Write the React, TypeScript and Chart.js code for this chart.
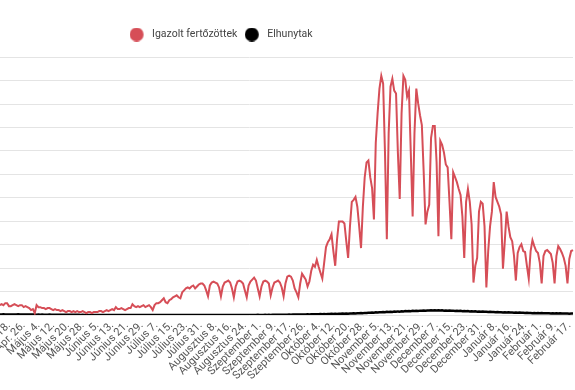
import React, { useEffect, useRef } from 'react';
import { Chart, registerables } from 'chart.js';

Chart.register(...registerables);

// Category (date) definition
const monthNames = ['Március', 'Ápr.', 'Május', 'Június', 'Július', 'Augusztus', 'Szeptember', 'Október', 'November', 'December', 'Január', 'Február'];
const monthFirstDay = [4, 1, 1, 1, 1, 1, 1, 1, 1, 1, 1, 1];
const monthLastDay = [31, 30, 31, 30, 31, 31, 30, 31, 30, 31, 31, 19];
const missingDates = ['Szeptember 20.'];
const firstTickLabel = 'Ápr. 18.';
const tickEvery = 8;

const labels: string[] = [];
monthNames.forEach((m, k) => {
  for (let d = monthFirstDay[k]; d <= monthLastDay[k]; d++) {
    const s = `${m} ${d}.`;
    if (!missingDates.includes(s)) labels.push(s);
  }
});

const confirmed = [
  2, 0, 3, 2, 0, 3, 4, 3, 3, 6,
  11, 2, 7, 11, 8, 12, 18, 14, 19, 20,
  39, 13, 34, 43, 24, 35, 45, 45, 38, 60,
  62, 55, 85, 78, 73, 210, 160, 115, 111, 200,
  210, 231, 210, 252, 252, 189, 189, 210, 231, 210,
  189, 210, 210, 168, 189, 168, 147, 105, 126, 42,
  210, 168, 168, 147, 147, 126, 147, 147, 126, 105,
  126, 105, 105, 84, 105, 84, 63, 84, 84, 63,
  84, 63, 84, 63, 63, 84, 63, 42, 63, 63,
  42, 63, 63, 63, 84, 84, 63, 84, 105, 84,
  105, 126, 105, 168, 126, 126, 147, 126, 105, 126,
  147, 147, 231, 189, 168, 189, 168, 189, 210, 168,
  189, 210, 168, 105, 210, 252, 252, 273, 315, 357,
  273, 252, 315, 336, 378, 399, 420, 378, 357, 483,
  525, 567, 588, 567, 609, 630, 567, 609, 651, 672,
  672, 630, 525, 399, 630, 693, 714, 693, 672, 588,
  399, 609, 693, 714, 735, 693, 567, 378, 609, 714,
  735, 714, 672, 525, 378, 630, 714, 756, 798, 735,
  567, 399, 609, 714, 735, 714, 672, 420, 588, 693,
  714, 735, 693, 588, 399, 672, 819, 840, 819, 735,
  567, 483, 378, 672, 882, 819, 756, 609, 714, 945,
  1071, 1029, 1176, 1029, 903, 777, 1113, 1449, 1554, 1617,
  1722, 1365, 1050, 1617, 1995, 1995, 1995, 1953, 1575, 1218,
  1890, 2415, 2457, 2520, 2310, 1890, 1428, 2310, 2940, 3255,
  3297, 2940, 2709, 2037, 3675, 4305, 4830, 5103, 4935, 3465,
  1617, 3885, 4872, 5040, 4788, 4725, 3465, 2478, 4305, 5103,
  5019, 4662, 4788, 3465, 2100, 3885, 4830, 4515, 4263, 4053,
  3045, 1932, 2205, 2352, 3780, 4032, 4032, 3255, 1680, 3717,
  3633, 3465, 3213, 3150, 2415, 1617, 3045, 2940, 2835, 2688,
  2562, 2100, 1218, 2415, 2688, 2415, 1932, 693, 1050, 1218,
  2205, 2415, 2373, 1890, 588, 1365, 1890, 2205, 2835, 2520,
  2415, 2310, 2142, 987, 1575, 2205, 1890, 1659, 1575, 1260,
  735, 1323, 1449, 1512, 1365, 1344, 1050, 777, 1365, 1596,
  1470, 1365, 1323, 1113, 672, 1260, 1365, 1386, 1344, 1302,
  1113, 672, 1260, 1470, 1407, 1323, 1218, 1050, 672, 1197,
  1365, 1386,
];

const deaths = [
  0, 0, 0, 0, 0, 0, 0, 0, 0, 0, 0, 1, 0, 0, 0, 0, 0, 1, 2, 1, 3, 1, 2, 0, 1, 2, 1, 2,
  2, 3, 4, 5, 4, 5, 4, 6, 8, 10, 9, 11, 12, 13, 14, 13, 12, 11, 12, 10, 9, 11, 14, 12, 13, 12, 10, 11, 12, 10,
  10, 9, 8, 9, 7, 8, 6, 7, 6, 8, 5, 6, 7, 5, 6, 4, 5, 6, 4, 5, 3, 4, 5, 3, 4, 3, 2, 3, 2, 3, 2,
  2, 1, 2, 1, 2, 1, 1, 2, 1, 0, 1, 1, 0, 1, 1, 0, 1, 0, 1, 1, 0, 1, 0, 0, 1, 0, 1, 0, 1, 0,
  0, 1, 0, 0, 1, 0, 0, 1, 0, 1, 0, 0, 1, 0, 0, 0, 1, 0, 0, 1, 0, 1, 0, 0, 1, 0, 0, 1, 0, 1, 0,
  1, 0, 1, 0, 1, 1, 0, 2, 1, 0, 1, 2, 1, 1, 0, 1, 2, 1, 1, 2, 1, 0, 1, 2, 1, 2, 1, 1, 2, 2, 3,
  1, 2, 1, 3, 2, 3, 2, 4, 3, 5, 4, 5, 6, 5, 7, 6, 8, 7, 9, 10, 9, 11, 10, 12, 11, 13, 14, 12, 15,
  16, 14, 18, 15, 19, 17, 21, 18, 22, 20, 24, 21, 26, 23, 28, 25, 30, 27, 32, 29, 34, 31, 37, 33, 39, 36, 42, 38, 45, 41, 48,
  46, 52, 49, 56, 53, 60, 57, 64, 59, 67, 63, 70, 66, 74, 69, 77, 72, 80, 75, 83, 78, 86, 81, 88, 84, 91, 86, 93, 89, 95,
  92, 98, 94, 100, 96, 103, 97, 101, 95, 99, 93, 97, 91, 95, 89, 93, 86, 90, 84, 88, 81, 85, 79, 83, 76, 80, 74, 78, 71, 75, 69,
  72, 67, 70, 64, 68, 62, 66, 60, 63, 58, 61, 56, 59, 54, 57, 52, 55, 50, 53, 48, 51, 46, 49, 44, 47, 42, 45, 40, 43, 39, 41,
  38, 41, 36, 39, 35, 38, 34, 37, 33, 36, 32, 35, 31, 34, 30, 33, 29, 32, 30,
];

const yMax = 5500;
const yStep = 500;

const redColor = 'rgb(214, 78, 87)';
const blackColor = '#000';

function makeDot(color: string) {
  const c = document.createElement('canvas');
  c.width = 24;
  c.height = 14;
  const g = c.getContext('2d')!;
  g.fillStyle = color;
  g.beginPath();
  g.arc(7, 7, 7, 0, Math.PI * 2);
  g.fill();
  return c;
}

const legendGap = {
  id: 'legendGap',
  afterInit(chart: any) {
    const legend = chart.legend;
    if (!legend) return;
    const origFit = legend.fit;
    legend.fit = function () {
      origFit.call(this);
      this.height += 7.5;
    };
  },
};

export default function App() {
  const ref = useRef<HTMLCanvasElement>(null);
  useEffect(() => {
    if (!ref.current) return;
    const first = labels.indexOf(firstTickLabel);
    const chart = new Chart(ref.current, {
      type: 'line',
      data: {
        labels,
        datasets: [
          {
            label: 'Igazolt fertőzöttek',
            data: confirmed,
            borderColor: redColor,
            backgroundColor: redColor,
            borderWidth: 2,
            pointRadius: 0,
            pointHoverRadius: 0,
            pointStyle: makeDot(redColor) as any,
            tension: 0,
          },
          {
            label: 'Elhunytak',
            data: deaths,
            borderColor: blackColor,
            backgroundColor: blackColor,
            borderWidth: 2.5,
            pointRadius: 0,
            pointHoverRadius: 0,
            pointStyle: makeDot(blackColor) as any,
            tension: 0,
          },
        ],
      },
      options: {
        responsive: false,
        animation: false,
        events: [],
        layout: { padding: { top: 15, right: 2, left: 0, bottom: 0 } },
        plugins: {
          legend: {
            position: 'top',
            labels: {
              usePointStyle: true,
              color: '#444',
              padding: 14.25,
              font: { family: 'Roboto', size: 10.5 },
            },
          },
          tooltip: { enabled: false },
        },
        scales: {
          x: {
            grid: { display: false, drawTicks: false },
            border: { display: false },
            ticks: {
              autoSkip: false,
              minRotation: 45,
              maxRotation: 45,
              padding: 4,
              color: '#555',
              font: { family: 'Roboto', size: 11 },
              callback: (_v: any, i: number) => ((i - first) % tickEvery === 0 ? labels[i] : null),
            },
            afterFit: (s: any) => {
              s.height = 75;
              s.paddingLeft = 0;
              s.paddingRight = 0;
            },
          },
          y: {
            min: 0,
            max: yMax,
            ticks: { stepSize: yStep, color: '#555', font: { family: 'Roboto', size: 11 } },
            grid: { color: '#e4e4e4', drawTicks: false },
            border: { display: false },
            afterFit: (s: any) => { s.width = 50; },
          },
        },
      },
      plugins: [legendGap],
    });
    return () => chart.destroy();
  }, []);
  return (
    <div style={{ position: 'fixed', left: -124, top: 0, width: 699, height: 390, background: '#fff' }}>
      <canvas ref={ref} width={699} height={390} style={{ display: 'block' }} />
    </div>
  );
}
